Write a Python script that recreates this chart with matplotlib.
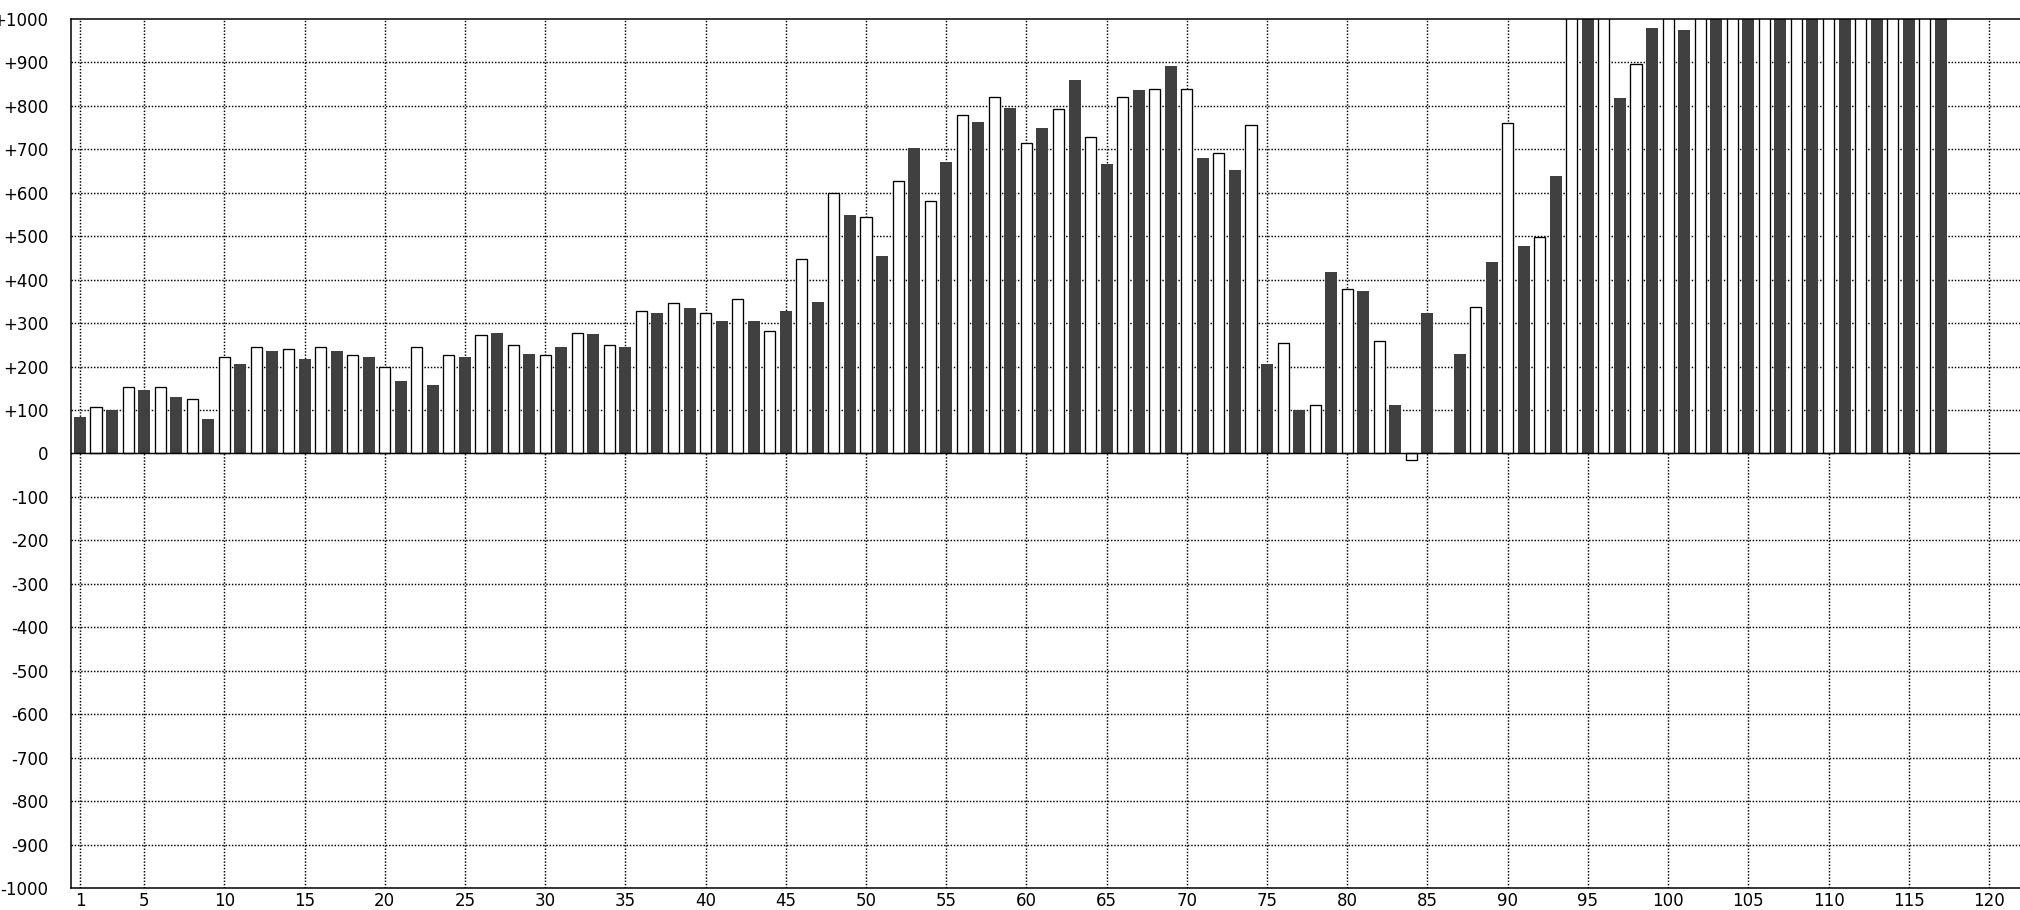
import matplotlib
matplotlib.use('Agg')
import matplotlib.pyplot as plt

# Значения (нечётные позиции - тёмные, чётные - белые)
dark_pos = list(range(1, 118, 2))
dark_vals = [85, 100, 145, 131, 80, 205, 237, 218, 237, 223,
             168, 158, 223, 278, 228, 246, 274, 246, 324, 334,
             306, 306, 329, 348, 550, 454, 703, 670, 763, 796,
             749, 859, 666, 836, 892, 680, 652, 205, 99, 417,
             375, 112, 324, 228, 440, 477, 638, 1200, 818, 979,
             975, 1200, 1200, 1200, 1200, 1200, 1200, 1200, 1200]

white_pos = list(range(2, 117, 2))
white_vals = [106, 152, 152, 125, 221, 244, 240, 244, 226, 198,
              244, 226, 272, 249, 226, 277, 249, 327, 346, 323,
              355, 281, 447, 600, 544, 627, 581, 779, 821, 715,
              793, 729, 821, 839, 839, 692, 756, 254, 111, 378,
              258, -15, 0, 337, 761, 498, 1200, 1200, 896, 1200,
              1200, 1200, 1200, 1200, 1200, 1200, 1200, 1200]

x_ticks = [1] + list(range(5, 121, 5))
y_ticks = list(range(-1000, 1001, 100))
y_labels = [('+%d' % v if v > 0 else '%d' % v) for v in y_ticks]

W, H = 2020, 910
fig = plt.figure(figsize=(W / 100, H / 100), dpi=100)
ax = fig.add_axes([70.5 / W, 22 / H, (2021 - 70.5) / W, (888 - 19) / H])

ax.set_xlim(0.41, 122)
ax.set_ylim(-1000, 1000)

ax.bar(dark_pos, dark_vals, width=0.75, color='#404040', linewidth=0, zorder=3)
ax.bar(white_pos, white_vals, width=0.69, color='white', edgecolor='black',
       linewidth=0.95, zorder=3)

ax.axhline(0, color='black', linewidth=1.05, zorder=4)

ax.set_xticks(x_ticks)
ax.set_yticks(y_ticks)
ax.set_yticklabels(y_labels)
ax.tick_params(length=0, labelsize=12, pad=3)
ax.tick_params(axis='y', pad=16)

dots = (0, (1, 1.2))
for v in y_ticks:
    if v not in (-1000, 0, 1000):
        ax.axhline(v, color='black', linewidth=1.05, linestyle=dots, zorder=1)
for v in x_ticks:
    ax.axvline(v, color='black', linewidth=1.05, linestyle=dots, zorder=1)

for s in ['left', 'top', 'bottom']:
    ax.spines[s].set_linewidth(1.1)
    ax.spines[s].set_zorder(5)
ax.spines['right'].set_visible(False)

fig.savefig('out.png', dpi=100)
